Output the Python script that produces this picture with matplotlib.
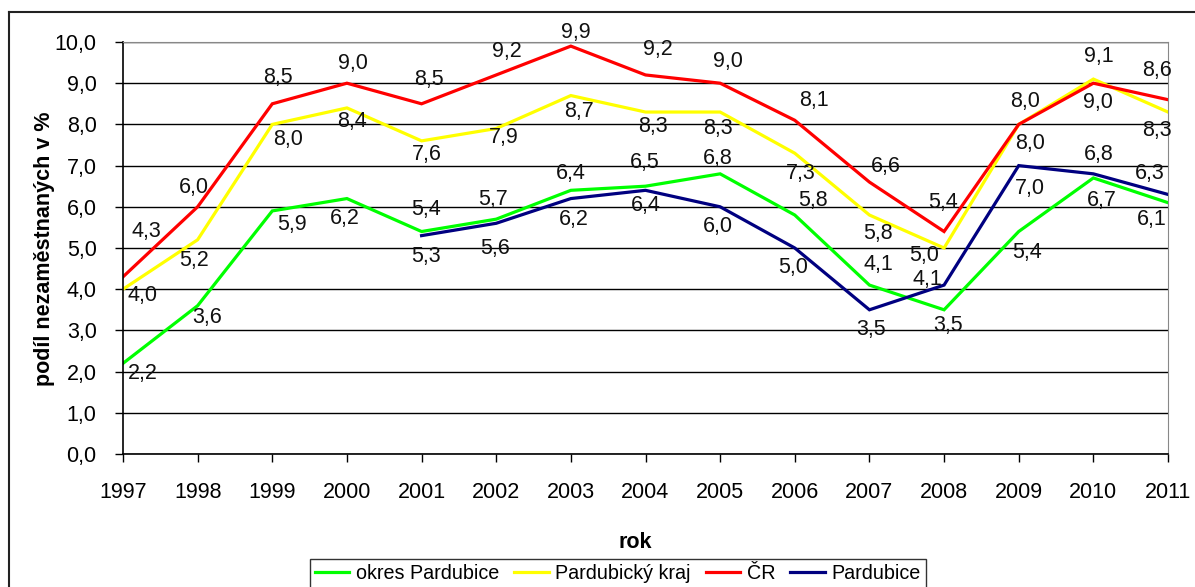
import matplotlib.pyplot as plt
from matplotlib.lines import Line2D

plt.rcParams['font.family'] = ['Liberation Sans', 'DejaVu Sans']

years = list(range(1997, 2012))
okres = [2.2, 3.6, 5.9, 6.2, 5.4, 5.7, 6.4, 6.5, 6.8, 5.8, 4.1, 3.5, 5.4, 6.7, 6.1]
kraj = [4.0, 5.2, 8.0, 8.4, 7.6, 7.9, 8.7, 8.3, 8.3, 7.3, 5.8, 5.0, 8.0, 9.1, 8.3]
cr = [4.3, 6.0, 8.5, 9.0, 8.5, 9.2, 9.9, 9.2, 9.0, 8.1, 6.6, 5.4, 8.0, 9.0, 8.6]
pce_years = list(range(2001, 2012))
pce = [5.3, 5.6, 6.2, 6.4, 6.0, 5.0, 3.5, 4.1, 7.0, 6.8, 6.3]

# posun popisku v pixelech (dx, dy; dy kladne = dolu)
off_okres = [(20, 10), (9, 12), (20, 14), (-2, 20), (4, -22), (-3, -20), (0, -17), (-1, -24),
             (-2, -15), (18, -15), (9, -21), (4, 16), (8, 21), (8, 23), (-16, 17)]
off_kraj = [(20, 6), (-4, 21), (16, 15), (5, 14), (5, 14), (8, 9), (8, 16), (7, 14),
            (-2, 16), (6, 20), (9, 18), (-20, 7), (11, 19), (5, -23), (-11, 18)]
off_cr = [(23, -45), (-4, -19), (6, -26), (6, -20), (7, -24), (11, -23), (5, -14), (12, -25),
          (8, -22), (19, -20), (16, -16), (-1, -29), (6, -23), (5, 19), (-11, -29)]
off_pce = [(4, 21), (-1, 25), (3, 21), (0, 15), (-2, 20), (-2, 20), (2, 20), (-17, -6),
           (11, 23), (5, -19), (-18, -21)]

fig = plt.figure(figsize=(11.95, 5.87), dpi=100)
ax = fig.add_axes([123/1195, 1-454/587, (1168-123)/1195, (454-42)/587])

series = [
    (years, okres, off_okres, '#00FF00', 'okres Pardubice'),
    (years, kraj, off_kraj, '#FFFF00', 'Pardubický kraj'),
    (years, cr, off_cr, '#FF0000', 'ČR'),
    (pce_years, pce, off_pce, '#000080', 'Pardubice'),
]
fs = 15.5
for xs, ys, offs, col, name in series:
    ax.plot(xs, ys, color=col, lw=2.3, label=name, solid_joinstyle='miter')
    for x, y, (dx, dy) in zip(xs, ys, offs):
        ax.annotate(f'{y:.1f}'.replace('.', ','), (x, y), xytext=(dx, -dy),
                    textcoords='offset pixels', ha='center', va='center',
                    fontsize=fs, color='#111111')

ax.set_xlim(1997, 2011)
ax.set_ylim(0, 10)
ax.set_xticks(years)
ax.set_xticklabels([str(y) for y in years])
ax.set_yticks([i for i in range(11)])
ax.set_yticklabels([f'{i},0' for i in range(11)])
ax.tick_params(axis='y', direction='out', length=6, width=1, pad=13, labelsize=fs)
ax.tick_params(axis='x', direction='out', length=6, width=1, pad=14, labelsize=fs)
ax.grid(axis='y', color='black', lw=1)
ax.set_axisbelow(True)
for s in ['top', 'right']:
    ax.spines[s].set_color('#888888')
for s in ['left', 'bottom']:
    ax.spines[s].set_color('black')
    ax.spines[s].set_linewidth(1.2)

fig.text(45/1195, 1-249/587, 'podíl nezaměstnaných v %', rotation=90, ha='center',
         va='center', fontsize=fs, fontweight='bold')
fig.text(635/1195, 1-543/587, 'rok', ha='center', va='center', fontsize=fs,
         fontweight='bold')

leg = fig.legend(loc='upper left', bbox_to_anchor=(310/1195, 1-559/587), ncol=4,
                 fontsize=14.2, frameon=True, fancybox=False, borderaxespad=0,
                 handlelength=1.75, handletextpad=0.34, columnspacing=0.75,
                 borderpad=0.25)
leg.get_frame().set_edgecolor('black')
leg.get_frame().set_linewidth(1)

# vnejsi ramecek grafu (viditelna leva a horni strana)
fig.add_artist(Line2D([9/1195, 9/1195], [0, 1-12/587], color='#222222', lw=1.5))
fig.add_artist(Line2D([9/1195, 1], [1-12/587, 1-12/587], color='#222222', lw=1.5))

fig.savefig('out.png', dpi=100)
